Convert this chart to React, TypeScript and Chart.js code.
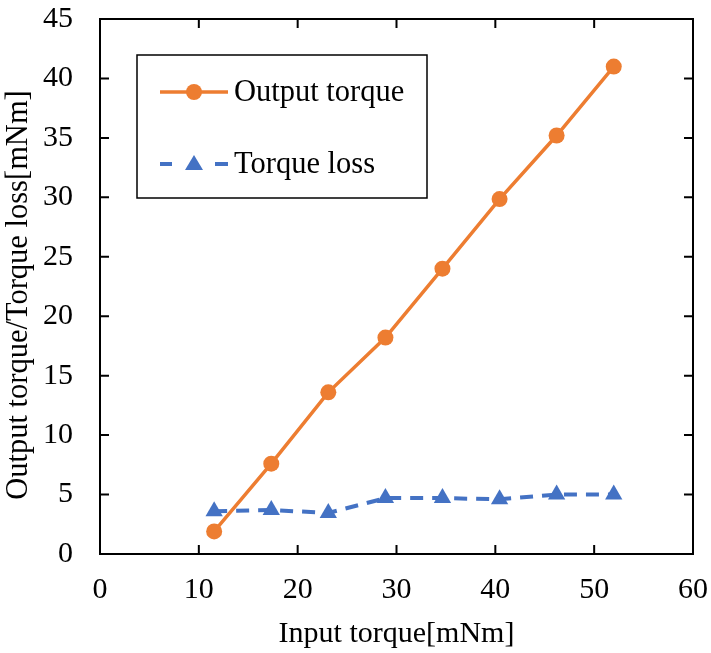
import React, { useEffect, useRef } from "react";
import { Chart, registerables } from "chart.js";

Chart.register(...registerables);

// ---- Data ----
const inputTorque = [11.55, 17.33, 23.1, 28.88, 34.65, 40.43, 46.2, 51.98];
const outputTorque = [1.9, 7.6, 13.6, 18.2, 24.0, 29.85, 35.2, 41.0];
const torqueLoss = [3.6, 3.7, 3.45, 4.7, 4.7, 4.6, 5.0, 5.0];
const seriesNames = ["Output torque", "Torque loss"];
const xAxisTitle = "Input torque[mNm]";
const yAxisTitle = "Output torque/Torque loss[mNm]";
const xRange = [0, 60];
const yRange = [0, 45];
const xStep = 10;
const yStep = 5;

const ORANGE = "#ED7D31";
const BLUE = "#4472C4";
const FONT = "'Liberation Serif', 'Times New Roman', serif";

const framePlugin = {
  id: "framePlugin",
  afterDraw(chart: any) {
    const { ctx, chartArea, scales } = chart;
    const { left, right, top, bottom } = chartArea;
    ctx.save();
    ctx.strokeStyle = "#000";
    ctx.lineWidth = 2;
    ctx.strokeRect(left, top, right - left, bottom - top);
    const tl = 9;
    ctx.beginPath();
    scales.x.ticks.forEach((t: any) => {
      const px = scales.x.getPixelForValue(t.value);
      if (Math.abs(px - left) < 1 || Math.abs(px - right) < 1) return;
      ctx.moveTo(px, bottom);
      ctx.lineTo(px, bottom - tl);
      ctx.moveTo(px, top);
      ctx.lineTo(px, top + tl);
    });
    scales.y.ticks.forEach((t: any) => {
      const py = scales.y.getPixelForValue(t.value);
      if (Math.abs(py - top) < 1 || Math.abs(py - bottom) < 1) return;
      ctx.moveTo(left, py);
      ctx.lineTo(left + tl, py);
      ctx.moveTo(right, py);
      ctx.lineTo(right - tl, py);
    });
    ctx.stroke();

    // Y axis title (rotated)
    ctx.save();
    ctx.translate(19, 295);
    ctx.rotate(-Math.PI / 2);
    ctx.font = `30.5px ${FONT}`;
    ctx.textAlign = "center";
    ctx.textBaseline = "middle";
    ctx.fillStyle = "#000";
    ctx.fillText(yAxisTitle, 0, 0);
    ctx.restore();

    // Legend box
    const bx = 137, by = 55, bw = 290, bh = 143;
    ctx.lineWidth = 1.5;
    ctx.strokeStyle = "#000";
    ctx.strokeRect(bx, by, bw, bh);
    ctx.font = `30.5px ${FONT}`;
    ctx.textBaseline = "middle";
    ctx.textAlign = "left";
    ctx.fillStyle = "#000";

    // Item 1
    let y = 92;
    ctx.strokeStyle = ORANGE;
    ctx.lineWidth = 3.5;
    ctx.setLineDash([]);
    ctx.beginPath();
    ctx.moveTo(160, y);
    ctx.lineTo(228, y);
    ctx.stroke();
    ctx.fillStyle = ORANGE;
    ctx.beginPath();
    ctx.arc(194, y, 8, 0, Math.PI * 2);
    ctx.fill();
    ctx.fillStyle = "#000";
    ctx.fillText(seriesNames[0], 234, y + 1);

    // Item 2
    y = 164;
    ctx.strokeStyle = BLUE;
    ctx.lineWidth = 4;
    ctx.beginPath();
    ctx.moveTo(160, y);
    ctx.lineTo(172, y);
    ctx.moveTo(215, y);
    ctx.lineTo(228, y);
    ctx.stroke();
    ctx.fillStyle = BLUE;
    ctx.beginPath();
    ctx.moveTo(194, y - 9);
    ctx.lineTo(203, y + 6);
    ctx.lineTo(185, y + 6);
    ctx.closePath();
    ctx.fill();
    ctx.fillStyle = "#000";
    ctx.fillText(seriesNames[1], 234, y + 1);
    ctx.restore();
  },
};

export default function App() {
  const ref = useRef<HTMLCanvasElement>(null);
  useEffect(() => {
    document.body.style.margin = "0";
    const chart = new Chart(ref.current!, {
      type: "line",
      data: {
        datasets: [
          {
            label: seriesNames[0],
            data: inputTorque.map((x, i) => ({ x, y: outputTorque[i] })),
            borderColor: ORANGE,
            backgroundColor: ORANGE,
            borderWidth: 3.5,
            pointStyle: "circle",
            pointRadius: 8,
            pointHoverRadius: 8,
            pointBorderWidth: 0,
            tension: 0,
          },
          {
            label: seriesNames[1],
            data: inputTorque.map((x, i) => ({ x, y: torqueLoss[i] })),
            borderColor: BLUE,
            backgroundColor: BLUE,
            borderWidth: 4,
            borderDash: [13, 9],
            pointStyle: "triangle",
            pointRadius: 10,
            pointHoverRadius: 10,
            pointBorderWidth: 0,
            tension: 0,
          },
        ],
      },
      options: {
        animation: false,
        responsive: false,
        clip: false as any,
        layout: { padding: { left: 0, top: 19, right: 18, bottom: 0 } },
        plugins: { legend: { display: false }, tooltip: { enabled: false } },
        scales: {
          x: {
            type: "linear",
            min: xRange[0],
            max: xRange[1],
            grid: { display: false, drawTicks: false, tickLength: 0 },
            border: { display: false },
            ticks: { stepSize: xStep, color: "#000", font: { family: FONT, size: 30 }, padding: 18, maxRotation: 0 },
            title: { display: true, text: xAxisTitle, color: "#000", font: { family: FONT, size: 30 }, padding: { top: 0, bottom: 1 } },
            afterFit(scale: any) {
              scale.height = 99;
              scale.paddingLeft = 0;
              scale.paddingRight = 0;
            },
          },
          y: {
            type: "linear",
            min: yRange[0],
            max: yRange[1],
            grid: { display: false, drawTicks: false, tickLength: 0 },
            border: { display: false },
            ticks: { stepSize: yStep, color: "#000", font: { family: FONT, size: 30 }, padding: 27 },
            title: { display: false, text: yAxisTitle },
            afterFit(scale: any) {
              scale.width = 100;
              scale.paddingTop = 0;
              scale.paddingBottom = 0;
            },
          },
        },
      },
      plugins: [framePlugin],
    });
    return () => chart.destroy();
  }, []);
  return <canvas ref={ref} width={711} height={653} style={{ display: "block" }} />;
}
